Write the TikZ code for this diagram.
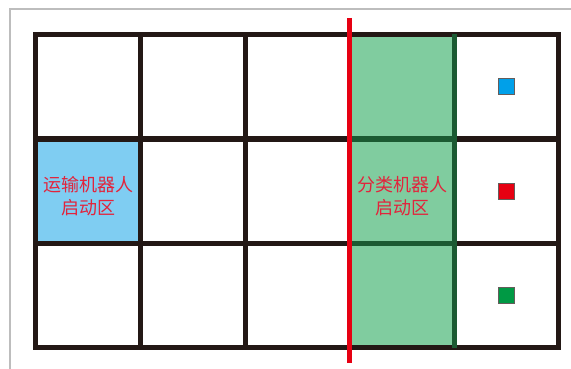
\documentclass[tikz,border=0pt]{standalone}
\usepackage{fontspec}
\newfontfamily\cjk{Noto Sans CJK SC}
\definecolor{gridblack}{HTML}{231815}
\definecolor{framegray}{HTML}{BDBDBD}
\definecolor{cellblue}{HTML}{7FCDF2}
\definecolor{cellgreen}{HTML}{80CC9F}
\definecolor{darkgreen}{HTML}{1B5A32}
\definecolor{redline}{HTML}{E60012}
\definecolor{textred}{HTML}{E2243C}
\definecolor{sqblue}{HTML}{00A0E9}
\definecolor{sqred}{HTML}{E60012}
\definecolor{sqgreen}{HTML}{009944}
\begin{document}
\begin{tikzpicture}[x=1pt,y=-1pt,
  gridline/.style={line width=5pt,draw=gridblack,line cap=rect},
  greenline/.style={line width=5pt,draw=darkgreen,line cap=rect},
  lbl/.style={align=center,text=textred,inner sep=0pt,font=\cjk\fontsize{18}{23}\selectfont},
  marker/.style={minimum size=16pt,inner sep=0pt,draw=gridblack!70,line width=0.5pt}]
\useasboundingbox (0,0) rectangle (571,369);
\draw[framegray,line width=1.2pt] (10,369) -- (10,9) -- (571,9);
% fills
\fill[cellblue] (35.5,139) rectangle (140.5,243.5);
\fill[cellgreen] (349.5,35) rectangle (454,347.5);
% black grid
\foreach \x in {35.5,140.5,245,349.5,558} \draw[gridline] (\x,35) -- (\x,347.5);
\foreach \y in {35,139,243.5,347.5} \draw[gridline] (35.5,\y) -- (558,\y);
% green column lines
\foreach \y in {139,243.5} \draw[greenline] (352,\y) -- (454,\y);
\draw[greenline] (454,37) -- (454,345.5);
% red divider
\coordinate (rtop) at (349.5,18);
\coordinate (rbot) at (349.5,363);
\draw[redline,line width=5pt] (rtop) -- (rbot);
% labels
\node[lbl] (transport) at (88.5,196) {运输机器人\\启动区};
\node[lbl] (sorter) at (402,196) {分类机器人\\启动区};
% markers
\node[marker,fill=sqblue] (mb) at (506,86.5) {};
\node[marker,fill=sqred] (mr) at (506,191) {};
\node[marker,fill=sqgreen] (mg) at (506,295.5) {};
\end{tikzpicture}
\end{document}
